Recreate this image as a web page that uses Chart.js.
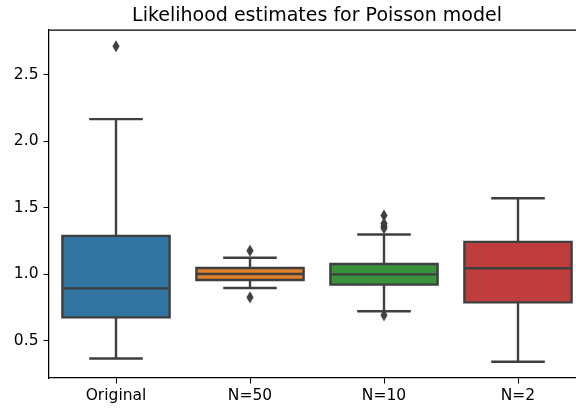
<!DOCTYPE html>
<html>
<head>
<meta charset="utf-8">
<script src="https://cdn.jsdelivr.net/npm/chart.js@4"></script>
<style>
  html, body { margin: 0; padding: 0; background: #fff; overflow: hidden; }
  #wrap { width: 634px; height: 408px; }
</style>
</head>
<body>
<div id="wrap"><canvas id="boxChart"></canvas></div>
<script>
const categories = ["Original", "N=50", "N=10", "N=2"];
const whiskerLow = [0.365, 0.895, 0.72, 0.34];
const q1 = [0.674, 0.955, 0.92, 0.787];
const median = [0.892, 1.0, 0.997, 1.043];
const q3 = [1.287, 1.045, 1.075, 1.242];
const whiskerHigh = [2.165, 1.122, 1.297, 1.57];
const outliers = [[2.713], [1.175, 0.825], [1.44, 1.38, 1.36, 1.345, 0.69], []];
const yTicks = [0.5, 1.0, 1.5, 2.0, 2.5];
const titleText = "Likelihood estimates for Poisson model";

const boxColors = ["#3274a1", "#e1812c", "#3a923a", "#c03d3e"];
const lineColor = "#3f3f3f";
const lineW = 2.4;

// thin diamond used for the fliers
function thinDiamond() {
  const c = document.createElement("canvas");
  c.width = 8; c.height = 13;
  const g = c.getContext("2d");
  g.fillStyle = lineColor;
  g.beginPath();
  g.moveTo(4, 0.5); g.lineTo(7.6, 6.5); g.lineTo(4, 12.5); g.lineTo(0.4, 6.5);
  g.closePath();
  g.fill();
  return c;
}

const fliers = [];
outliers.forEach((vals, i) => vals.forEach(v => fliers.push({ x: categories[i], y: v })));

// box outlines, medians, whiskers and caps, top spine and a title centred on the axes
const boxLines = {
  id: "boxLines",
  afterDatasetsDraw(chart) {
    const ctx = chart.ctx;
    const y = chart.scales.y;
    const meta = chart.getDatasetMeta(0);
    ctx.save();
    ctx.strokeStyle = lineColor;
    ctx.lineWidth = lineW;
    ctx.lineCap = "butt";
    meta.data.forEach((bar, i) => {
      const p = bar.getProps(["x", "width"], true);
      const half = p.width / 2;
      const capHalf = p.width / 4;
      const yq1 = y.getPixelForValue(q1[i]);
      const yq3 = y.getPixelForValue(q3[i]);
      const ym = y.getPixelForValue(median[i]);
      const ylo = y.getPixelForValue(whiskerLow[i]);
      const yhi = y.getPixelForValue(whiskerHigh[i]);
      ctx.beginPath();
      ctx.rect(p.x - half, yq3, p.width, yq1 - yq3);
      ctx.moveTo(p.x - half, ym); ctx.lineTo(p.x + half, ym);
      ctx.moveTo(p.x, yq3); ctx.lineTo(p.x, yhi);
      ctx.moveTo(p.x, yq1); ctx.lineTo(p.x, ylo);
      ctx.moveTo(p.x - capHalf, yhi); ctx.lineTo(p.x + capHalf, yhi);
      ctx.moveTo(p.x - capHalf, ylo); ctx.lineTo(p.x + capHalf, ylo);
      ctx.stroke();
    });
    const a = chart.chartArea;
    ctx.strokeStyle = "#000";
    ctx.lineWidth = 1.25;
    ctx.beginPath();
    ctx.moveTo(a.left, a.top); ctx.lineTo(a.right, a.top); ctx.lineTo(a.right, a.bottom);
    ctx.stroke();

    ctx.fillStyle = "#000";
    ctx.font = "19px 'DejaVu Sans', sans-serif";
    ctx.textAlign = "center";
    ctx.textBaseline = "alphabetic";
    ctx.fillText(titleText, (a.left + a.right) / 2, a.top - 9.5);
    ctx.restore();
  }
};

Chart.defaults.font.family = "'DejaVu Sans', sans-serif";
Chart.defaults.color = "#000";

new Chart(document.getElementById("boxChart"), {
  type: "bar",
  data: {
    labels: categories,
    datasets: [
      {
        data: categories.map((_, i) => [q1[i], q3[i]]),
        backgroundColor: boxColors,
        borderWidth: 0,
        barPercentage: 0.8,
        categoryPercentage: 1.0,
        order: 2
      },
      {
        type: "scatter",
        data: fliers,
        pointStyle: thinDiamond(),
        pointRadius: 6,
        order: 1
      }
    ]
  },
  options: {
    responsive: true,
    maintainAspectRatio: false,
    animation: false,
    events: [],
    layout: { padding: { left: 0, right: 49, top: 30, bottom: 0 } },
    plugins: {
      legend: { display: false },
      tooltip: { enabled: false },
      title: { display: false }
    },
    scales: {
      x: {
        type: "category",
        offset: true,
        grid: { display: true, drawOnChartArea: false, drawTicks: true, tickLength: 5.5, color: "#000", offset: false },
        border: { display: true, color: "#000", width: 1.25 },
        ticks: { font: { size: 15.5 }, padding: 3, color: "#000" },
        afterFit(s) { s.height = 30; }
      },
      y: {
        min: 0.218,
        max: 2.835,
        grid: { display: true, drawOnChartArea: false, drawTicks: true, tickLength: 5.5, color: "#000" },
        border: { display: true, color: "#000", width: 1.25 },
        ticks: { font: { size: 15.5 }, padding: 5, color: "#000", callback: v => v.toFixed(1) },
        afterBuildTicks(s) { s.ticks = yTicks.map(v => ({ value: v })); },
        afterFit(s) { s.width = 49; }
      }
    }
  },
  plugins: [boxLines]
});
</script>
</body>
</html>
